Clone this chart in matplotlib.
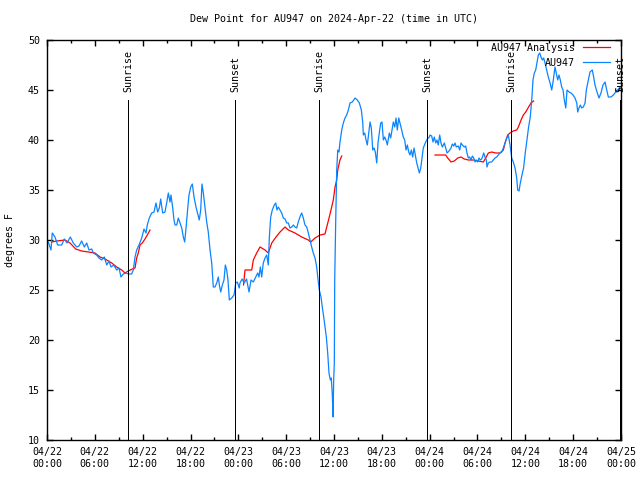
import numpy as np
import matplotlib.pyplot as plt

plt.rcParams['font.family'] = 'DejaVu Sans Mono'
plt.rcParams['font.size'] = 7.2

# time axis: hours after 2024-04-22 00:00 UTC
obs_hours = [0.16, 0.50, 0.66, 1.00, 1.34, 1.84, 2.17, 2.51, 2.92, 3.30, 3.73, 4.01, 4.35, 4.68, 4.98,
             5.27, 5.61, 5.81, 6.23, 6.52, 6.86, 7.19, 7.49, 7.78, 8.03, 8.37, 8.74, 9.03, 9.28, 9.57,
             9.91, 10.20, 10.62, 10.83, 11.04, 11.25, 11.54, 11.88, 12.17, 12.42, 12.58, 12.83, 13.13,
             13.42, 13.67, 13.88, 14.09, 14.26, 14.51, 14.80, 15.01, 15.22, 15.43, 15.55, 15.77, 15.93,
             16.06, 16.27, 16.47, 16.68, 16.90, 17.10, 17.27, 17.44, 17.60, 17.81, 18.03, 18.23, 18.44,
             18.69, 18.94, 19.10, 19.28, 19.44, 19.61, 19.82, 20.03, 20.23, 20.45, 20.66, 20.86, 21.07,
             21.29, 21.49, 21.62, 21.79, 21.99, 22.20, 22.37, 22.54, 22.70, 22.87, 23.17, 23.46, 23.67,
             23.87, 24.12, 24.20, 24.48, 24.73, 25.03, 25.34, 25.59, 25.88, 26.18, 26.43, 26.59, 26.76,
             26.93, 27.13, 27.35, 27.56, 27.76, 27.89, 28.06, 28.26, 28.51, 28.69, 28.85, 29.01, 29.23,
             29.44, 29.64, 29.86, 30.07, 30.27, 30.48, 30.70, 30.90, 31.11, 31.32, 31.52, 31.77, 31.95,
             32.15, 32.36, 32.58, 32.78, 32.99, 33.20, 33.40, 33.62, 33.83, 34.03, 34.16, 34.37, 34.53,
             34.71, 34.87, 35.04, 35.21, 35.37, 35.54, 35.66, 35.79, 35.88, 35.96, 36.04, 36.09, 36.21,
             36.34, 36.47, 36.63, 36.75, 36.97, 37.17, 37.38, 37.59, 37.80, 38.01, 38.30, 38.64, 38.93,
             39.18, 39.43, 39.61, 39.68, 39.86, 40.02, 40.18, 40.36, 40.52, 40.68, 40.86, 41.02, 41.18,
             41.36, 41.52, 41.68, 41.86, 42.02, 42.19, 42.36, 42.52, 42.69, 42.94, 43.11, 43.28, 43.44,
             43.62, 43.78, 43.94, 44.12, 44.28, 44.49, 44.69, 44.87, 45.03, 45.20, 45.37, 45.53, 45.70,
             45.87, 46.04, 46.20, 46.38, 46.54, 46.71, 46.88, 47.04, 47.20, 47.45, 47.70, 47.96, 48.04,
             48.25, 48.42, 48.58, 48.76, 48.92, 49.08, 49.26, 49.42, 49.59, 49.84, 50.01, 50.18, 50.43,
             50.68, 50.84, 51.02, 51.18, 51.34, 51.59, 51.77, 51.93, 52.09, 52.34, 52.52, 52.68, 52.85,
             53.02, 53.19, 53.35, 53.53, 53.69, 53.85, 54.03, 54.19, 54.36, 54.53, 54.78, 54.94, 55.11,
             55.19, 55.36, 55.57, 55.78, 55.98, 56.20, 56.41, 56.61, 56.82, 57.04, 57.24, 57.45, 57.67,
             57.87, 58.08, 58.29, 58.49, 58.71, 58.92, 59.04, 59.21, 59.37, 59.58, 59.78, 59.99, 60.20,
             60.41, 60.62, 60.83, 60.96, 61.13, 61.30, 61.46, 61.63, 61.80, 61.97, 62.13, 62.30, 62.47,
             62.68, 62.88, 63.10, 63.31, 63.51, 63.72, 63.88, 64.06, 64.22, 64.39, 64.56, 64.73, 64.89,
             65.07, 65.23, 65.48, 65.73, 65.98, 66.23, 66.45, 66.57, 66.73, 66.90, 67.07, 67.27, 67.49,
             67.65, 67.90, 68.11, 68.40, 68.57, 68.74, 68.99, 69.24, 69.49, 69.74, 70.00, 70.21, 70.41,
             70.75, 71.04, 71.34, 71.59, 71.88]
obs_dewpt = [29.8, 29.0, 30.7, 30.3, 29.5, 29.5, 30.1, 29.7, 30.3, 29.7, 29.3, 29.4, 29.9, 29.3, 29.7,
             29.0, 29.1, 28.7, 28.5, 28.2, 28.0, 28.3, 27.5, 27.9, 27.3, 27.5, 27.0, 27.2, 26.3, 26.6,
             26.7, 26.6, 26.6, 27.0, 28.3, 29.0, 29.5, 30.2, 31.1, 30.7, 31.5, 32.2, 32.7,
             32.8, 33.7, 32.8, 33.2, 34.1, 32.7, 32.8, 33.7, 34.7, 33.8, 34.5, 33.2, 32.0,
             31.5, 31.5, 32.2, 31.7, 31.2, 30.3, 29.8, 31.2, 32.7, 34.5, 35.3, 35.6, 34.3,
             33.3, 32.5, 32.0, 33.0, 35.6, 34.7, 33.2, 31.8, 30.8, 29.0, 27.7, 25.3, 25.3,
             25.7, 26.3, 25.5, 24.8, 25.5, 26.0, 27.5, 27.0, 26.0, 24.0, 24.2, 24.5, 25.7,
             25.8, 25.2, 25.7, 26.1, 25.7, 26.1, 24.8, 26.0, 25.8, 26.3, 26.7, 26.3, 27.3,
             26.3, 27.7, 28.2, 28.5, 27.5, 30.3, 32.3, 33.0, 33.5, 33.7, 33.0, 33.3, 33.0,
             32.7, 32.2, 32.1, 31.7, 31.7, 31.2, 31.3, 31.5, 31.3, 31.2, 31.8, 32.4, 32.7,
             32.2, 31.5, 31.3, 30.7, 30.0, 29.3, 28.7, 28.2, 27.3, 25.8, 25.0, 24.3, 23.3,
             22.3, 21.3, 20.3, 18.7, 16.7, 16.0, 16.2, 14.5, 12.3, 16.0, 17.7, 26.0, 31.7,
             37.0, 39.0, 38.8, 39.8, 41.0, 41.7, 42.2, 42.5, 43.0, 43.7, 43.8, 44.2, 44.0,
             43.7, 43.0, 41.7, 40.5, 40.7, 40.0, 39.5, 40.7, 41.8, 41.2, 39.0, 39.2, 38.8,
             37.7, 39.7, 40.7, 41.7, 41.8, 40.0, 40.3, 40.0, 39.5, 40.7, 40.2, 41.0, 41.8,
             41.3, 42.2, 41.0, 42.2, 41.7, 41.0, 40.3, 40.0, 39.0, 39.5, 38.8, 38.5, 39.0,
             38.3, 39.2, 38.5, 37.7, 37.2, 36.7, 37.2, 38.2, 39.2, 39.7, 40.1, 40.3, 40.5,
             40.4, 39.8, 40.3, 39.7, 40.0, 39.5, 40.5, 39.7, 39.3, 39.7, 39.2, 38.7, 38.9,
             39.2, 39.6, 39.4, 39.7, 39.3, 39.4, 39.0, 39.7, 39.5, 39.3, 39.4, 38.7, 38.2,
             38.3, 38.0, 38.4, 38.2, 37.8, 38.0, 37.8, 38.2, 38.0, 38.1, 38.7, 38.3, 38.0,
             37.3, 37.7, 37.8, 37.8, 38.0, 38.2, 38.3, 38.5, 38.7, 38.8, 39.2, 39.7, 40.2,
             40.5, 39.5, 38.2, 37.8, 37.2, 36.2, 35.0, 34.9, 35.7, 36.5, 37.2, 38.7, 40.0,
             41.3, 42.3, 44.3, 46.0, 46.7, 47.0, 47.7, 48.5, 48.7, 48.3, 48.0, 48.2, 47.7,
             47.0, 46.3, 45.7, 45.0, 46.0, 47.3, 46.7, 46.0, 46.5, 46.0, 45.3, 45.0, 44.0,
             43.2, 45.0, 44.8, 44.7, 44.5, 44.2, 43.7, 42.8, 43.2, 43.5, 43.2, 43.3, 43.7,
             45.0, 46.0, 46.8, 47.0, 46.3, 45.5, 44.8, 44.2, 44.7, 45.5, 45.8, 45.0, 44.3,
             44.3, 44.5, 44.8, 45.0, 45.3]

# analysis series (gaps where no analysis)
ana_hours = [0.59, 1.22, 2.26, 2.89, 3.60, 4.35, 5.18, 6.02, 6.65, 7.28, 8.12, 8.74, 9.37, 9.78,
             10.20, 10.70, 11.04, 11.25, 11.45, 11.67, 11.95, 12.29, 12.58, 12.92,
             np.nan,
             24.65, 24.84, 25.68, 25.88, 26.30, 26.72, 27.35, 27.76, 28.19, 28.73, 29.23, 29.86,
             30.27, 31.11, 31.95, 32.78, 33.08, 33.62, 34.25, 34.87, 35.09, 35.41, 35.71, 35.91,
             36.13, 36.34, 36.47, 36.75, 36.97,
             np.nan,
             48.67, 50.01, 50.26, 50.68, 51.09, 51.52, 51.93, 52.34, 52.85, 53.47, 54.10, 54.73,
             55.03, 55.36, 55.78, 56.28, 56.82, 57.24, 57.45, 57.79, 58.08, 58.49, 58.92, 59.13,
             59.46, 59.75, 60.05, 60.41, 60.71, 61.04]
ana_dewpt = [29.8, 29.9, 30.0, 29.7, 29.1, 28.9, 28.8, 28.7, 28.3, 28.1, 27.7, 27.3, 27.0, 26.7,
             26.9, 27.1, 27.2, 28.2, 28.7, 29.5, 29.7, 30.1, 30.5, 31.0,
             np.nan,
             25.5, 27.0, 27.0, 28.0, 28.7, 29.3, 29.0, 28.7, 29.7, 30.3, 30.8, 31.3,
             31.0, 30.7, 30.3, 30.0, 29.8, 30.2, 30.5, 30.6, 31.3, 32.3, 33.3, 34.0,
             35.3, 36.0, 37.0, 38.0, 38.4,
             np.nan,
             38.5, 38.5, 38.2, 37.8, 37.9, 38.2, 38.3, 38.1, 38.0, 38.0, 37.9, 37.8,
             38.2, 38.7, 38.8, 38.7, 38.7, 39.0, 39.7, 40.5, 40.7, 40.9, 41.0, 41.3,
             42.0, 42.5, 42.8, 43.3, 43.7, 43.9]

sun_hours = [10.16, 23.58, 34.12, 47.67, 58.20, 71.88]
sun_names = ['Sunrise', 'Sunset', 'Sunrise', 'Sunset', 'Sunrise', 'Sunset']

tick_hours = list(range(0, 73, 6))
tick_labels = ['04/22\n00:00', '04/22\n06:00', '04/22\n12:00', '04/22\n18:00',
               '04/23\n00:00', '04/23\n06:00', '04/23\n12:00', '04/23\n18:00',
               '04/24\n00:00', '04/24\n06:00', '04/24\n12:00', '04/24\n18:00',
               '04/25\n00:00']

fig = plt.figure(figsize=(6.4, 4.8), dpi=100)
ax = fig.add_axes([47/640, 40/480, 574/640, 400/480])

red, = ax.plot(ana_hours, ana_dewpt, color='#ff0000', lw=0.9)
blue, = ax.plot(obs_hours, obs_dewpt, color='#0a84ff', lw=0.9)

ax.vlines(sun_hours, 10, 44, color='black', lw=0.7, antialiased=False)
for h, name in zip(sun_hours, sun_names):
    ax.text(h, 44.8, name, rotation=90, ha='center', va='bottom')

ax.set_xlim(0, 72)
ax.set_ylim(10, 50)
ax.set_xticks(tick_hours)
ax.set_xticklabels(tick_labels)
ax.set_xticks(range(3, 72, 6), minor=True)
ax.set_yticks(range(10, 51, 5))
ax.tick_params(direction='in', top=True, right=True, length=4, width=1, pad=5)
ax.tick_params(which='minor', direction='in', top=True, length=2, width=1)
for s in ax.spines.values():
    s.set_linewidth(1)

fig.text(334/640, 1 - 19/480, 'Dew Point for AU947 on 2024-Apr-22 (time in UTC)',
         ha='center', va='center')
fig.text(10/640, 0.5, 'degrees F', rotation=90, ha='center', va='center')

kw = dict(loc='upper right', frameon=False, markerfirst=False, handlelength=2.7,
          handletextpad=0.8, borderaxespad=0, borderpad=0)
leg1 = ax.legend([red], ['AU947 Analysis'], bbox_to_anchor=(0.981, 0.9925), **kw)
ax.add_artist(leg1)
ax.legend([blue], ['AU947'], bbox_to_anchor=(0.981, 0.955), **kw)

fig.savefig('out.png', dpi=100)
